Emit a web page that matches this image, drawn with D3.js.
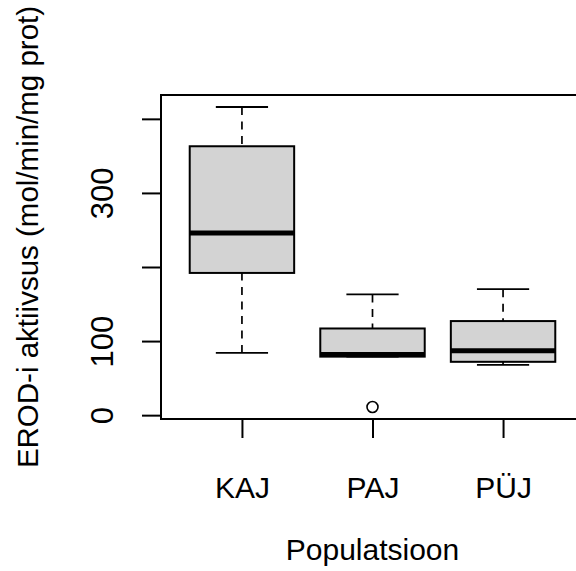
<!DOCTYPE html>
<html>
<head>
<meta charset="utf-8">
<script src="https://cdn.jsdelivr.net/npm/d3@7"></script>
<style>
  body { margin: 0; background: #fff; }
  svg { display: block; font-family: Arial, "Liberation Sans", sans-serif; }
</style>
</head>
<body>
<div id="chart"></div>
<script>
// box statistics
const groups       = ["KAJ", "PAJ", "PÜJ"];
const lowerWhisker = [84, 79, 68];
const lowerQuart   = [192, 79, 72];
const medians      = [246, 82, 87];
const upperQuart   = [363, 117, 127];
const upperWhisker = [416, 163, 170];
const outliers     = [[], [11], []];
const yTicks       = [0, 100, 200, 300, 400];
const yTickLabels  = ["0", "100", "", "300", ""];

const W = 576, H = 571;
const plot = {left: 161, top: 95, right: 584, bottom: 419};

const allVals = lowerWhisker.concat(upperWhisker, ...outliers);
const lo = d3.min(allVals), hi = d3.max(allVals);
const pad = (hi - lo) * 0.04;

const x = d3.scaleLinear()
  .domain([0.5 - 0.12, groups.length + 0.5 + 0.12])
  .range([plot.left, plot.right]);

const y = d3.scaleLinear()
  .domain([lo - pad, hi + pad])
  .range([plot.bottom, plot.top]);

const boxW = (x(1.8) - x(1)) / 2;   // boxwex 0.8 -> half width
const capW = boxW / 2;

const data = groups.map((g, i) => ({
  name: g, pos: i + 1,
  lw: lowerWhisker[i], q1: lowerQuart[i], med: medians[i],
  q3: upperQuart[i], uw: upperWhisker[i], out: outliers[i]
}));

const svg = d3.select("#chart").append("svg")
  .attr("width", W)
  .attr("height", H);

const boxes = svg.append("g")
  .selectAll("g")
  .data(data)
  .enter()
  .append("g");

// whiskers (dashed, from end to quartile)
boxes.selectAll("line.whisk")
  .data(d => [[d.pos, d.uw, d.q3], [d.pos, d.lw, d.q1]])
  .enter()
  .append("line")
    .attr("class", "whisk")
    .attr("x1", d => x(d[0]))
    .attr("x2", d => x(d[0]))
    .attr("y1", d => y(d[1]))
    .attr("y2", d => y(d[2]))
    .attr("stroke", "#000")
    .attr("stroke-width", 1.7)
    .attr("stroke-dasharray", "8,6.5");

// staples
boxes.selectAll("line.cap")
  .data(d => [[d.pos, d.uw], [d.pos, d.lw]])
  .enter()
  .append("line")
    .attr("class", "cap")
    .attr("x1", d => x(d[0]) - capW)
    .attr("x2", d => x(d[0]) + capW)
    .attr("y1", d => y(d[1]))
    .attr("y2", d => y(d[1]))
    .attr("stroke", "#000")
    .attr("stroke-width", 1.8);

// box
boxes.append("rect")
  .attr("x", d => x(d.pos) - boxW)
  .attr("width", boxW * 2)
  .attr("y", d => y(d.q3))
  .attr("height", d => y(d.q1) - y(d.q3))
  .attr("fill", "#d3d3d3")
  .attr("stroke", "#000")
  .attr("stroke-width", 2);

// median
boxes.append("line")
  .attr("x1", d => x(d.pos) - boxW)
  .attr("x2", d => x(d.pos) + boxW)
  .attr("y1", d => y(d.med))
  .attr("y2", d => y(d.med))
  .attr("stroke", "#000")
  .attr("stroke-width", 5);

// outliers
boxes.selectAll("circle")
  .data(d => d.out.map(v => [d.pos, v]))
  .enter()
  .append("circle")
    .attr("cx", d => x(d[0]))
    .attr("cy", d => y(d[1]))
    .attr("r", 5.5)
    .attr("fill", "none")
    .attr("stroke", "#000")
    .attr("stroke-width", 1.6);

// frame
svg.append("rect")
  .attr("x", plot.left)
  .attr("y", plot.top)
  .attr("width", plot.right - plot.left)
  .attr("height", plot.bottom - plot.top)
  .attr("fill", "none")
  .attr("stroke", "#000")
  .attr("stroke-width", 2);

// y axis
const yAxis = svg.append("g")
  .attr("transform", `translate(${plot.left},0)`)
  .call(d3.axisLeft(y)
    .tickValues(yTicks)
    .tickSize(19)
    .tickFormat((d, i) => yTickLabels[i]));

yAxis.select(".domain").remove();
yAxis.selectAll(".tick line").attr("stroke-width", 2);
yAxis.selectAll(".tick text")
  .attr("x", null)
  .attr("dy", null)
  .attr("text-anchor", "middle")
  .attr("transform", "translate(-48,0) rotate(-90)")
  .attr("font-family", "Arial, 'Liberation Sans', sans-serif")
  .attr("font-size", 31)
  .attr("fill", "#000");

// x axis
const xAxis = svg.append("g")
  .attr("transform", `translate(0,${plot.bottom})`)
  .call(d3.axisBottom(x)
    .tickValues(data.map(d => d.pos))
    .tickSize(19)
    .tickFormat((d, i) => groups[i]));

xAxis.select(".domain").remove();
xAxis.selectAll(".tick line").attr("stroke-width", 2);
xAxis.selectAll(".tick text")
  .attr("y", 79)
  .attr("dy", null)
  .attr("font-family", "Arial, 'Liberation Sans', sans-serif")
  .attr("font-size", 30)
  .attr("fill", "#000");

// axis titles
svg.append("text")
  .attr("x", (plot.left + plot.right) / 2)
  .attr("y", 560)
  .attr("text-anchor", "middle")
  .attr("font-size", 30)
  .attr("fill", "#000")
  .text("Populatsioon");

svg.append("text")
  .attr("transform", "translate(38,237) rotate(-90)")
  .attr("text-anchor", "middle")
  .attr("font-size", 29.5)
  .attr("fill", "#000")
  .text("EROD-i aktiivsus (mol/min/mg prot)");
</script>
</body>
</html>
